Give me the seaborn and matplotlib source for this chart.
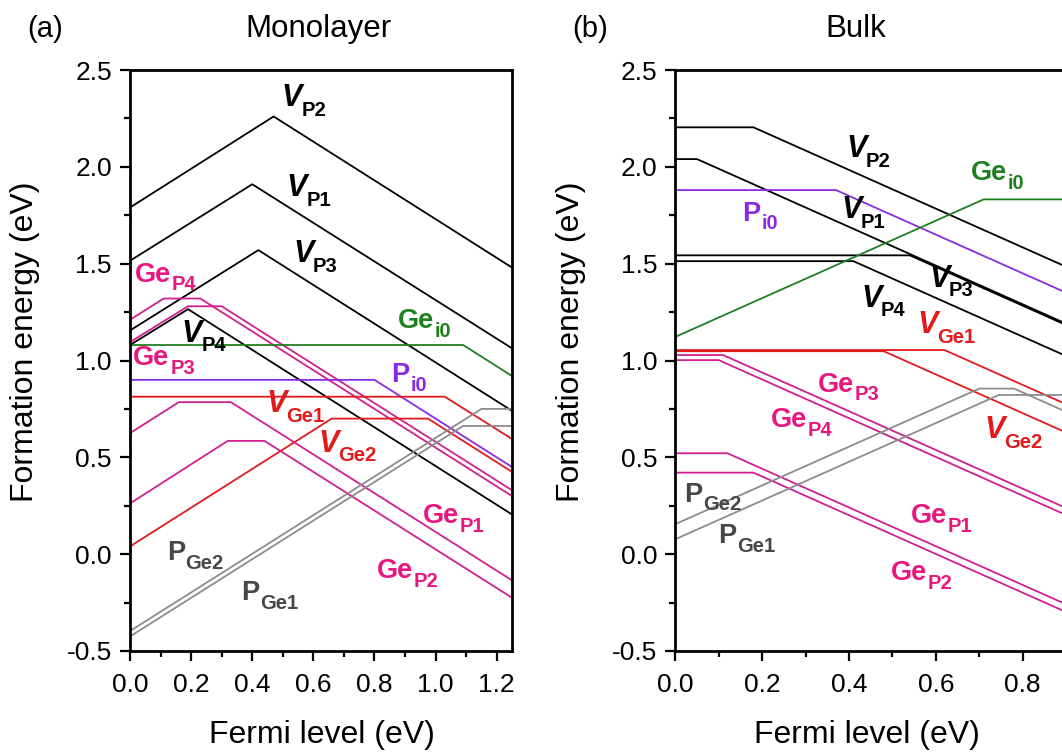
import matplotlib
matplotlib.use("Agg")
import matplotlib.pyplot as plt
from matplotlib.ticker import MultipleLocator, FormatStrFormatter
import seaborn as sns

# ---- Monolayer: kink points (Fermi level, formation energy) for each defect ----
mono_VP2_x = [0.0, 0.47, 1.25];          mono_VP2_y = [1.79, 2.26, 1.48]
mono_VP1_x = [0.0, 0.40, 1.25];          mono_VP1_y = [1.515, 1.91, 1.063]
mono_VP3_x = [0.0, 0.42, 1.25];          mono_VP3_y = [1.155, 1.57, 0.74]
mono_VP4_x = [0.0, 0.19, 1.25];          mono_VP4_y = [1.08, 1.265, 0.205]
mono_GeP4_x = [0.0, 0.11, 0.23, 1.25];   mono_GeP4_y = [1.21, 1.32, 1.32, 0.30]
mono_GeP3_x = [0.0, 0.19, 0.30, 1.25];   mono_GeP3_y = [1.095, 1.28, 1.28, 0.33]
mono_Gei0_x = [0.0, 1.09, 1.25];         mono_Gei0_y = [1.08, 1.08, 0.92]
mono_Pi0_x = [0.0, 0.80, 1.25];          mono_Pi0_y = [0.90, 0.90, 0.45]
mono_VGe1_x = [0.0, 1.03, 1.25];         mono_VGe1_y = [0.813, 0.813, 0.595]
mono_VGe2_x = [0.0, 0.66, 0.975, 1.25];  mono_VGe2_y = [0.04, 0.70, 0.70, 0.425]
mono_GeP1_x = [0.0, 0.16, 0.33, 1.25];   mono_GeP1_y = [0.625, 0.785, 0.785, -0.135]
mono_GeP2_x = [0.0, 0.32, 0.44, 1.25];   mono_GeP2_y = [0.262, 0.585, 0.585, -0.225]
mono_PGe2_x = [0.0, 1.15, 1.25];         mono_PGe2_y = [-0.397, 0.75, 0.75]
mono_PGe1_x = [0.0, 1.09, 1.25];         mono_PGe1_y = [-0.425, 0.662, 0.662]

# ---- Bulk ----
bulk_VP2_x = [0.0, 0.18, 0.9];           bulk_VP2_y = [2.204, 2.204, 1.484]
bulk_VP1_x = [0.0, 0.05, 0.9];           bulk_VP1_y = [2.04, 2.04, 1.19]
bulk_Pi0_x = [0.0, 0.37, 0.9];           bulk_Pi0_y = [1.88, 1.88, 1.35]
bulk_VP3_x = [0.0, 0.54, 0.9];           bulk_VP3_y = [1.543, 1.543, 1.183]
bulk_VP4_x = [0.0, 0.41, 0.9];           bulk_VP4_y = [1.513, 1.513, 1.023]
bulk_Gei0_x = [0.0, 0.71, 0.9];          bulk_Gei0_y = [1.122, 1.832, 1.832]
bulk_VGe1_x = [0.0, 0.62, 0.9];          bulk_VGe1_y = [1.054, 1.054, 0.774]
bulk_VGe2_x = [0.0, 0.48, 0.9];          bulk_VGe2_y = [1.048, 1.048, 0.628]
bulk_GeP3_x = [0.0, 0.11, 0.9];          bulk_GeP3_y = [1.028, 1.028, 0.238]
bulk_GeP4_x = [0.0, 0.10, 0.9];          bulk_GeP4_y = [1.002, 1.002, 0.202]
bulk_GeP1_x = [0.0, 0.12, 0.9];          bulk_GeP1_y = [0.521, 0.521, -0.259]
bulk_GeP2_x = [0.0, 0.18, 0.9];          bulk_GeP2_y = [0.421, 0.421, -0.299]
bulk_PGe2_x = [0.0, 0.70, 0.78, 0.9];    bulk_PGe2_y = [0.155, 0.855, 0.855, 0.735]
bulk_PGe1_x = [0.0, 0.745, 0.9];         bulk_PGe1_y = [0.077, 0.822, 0.822]

# colours: (line, label)
BLACK = ("#000000", "#000000")
PINK = ("#D02090", "#EA1680")
GREEN = ("#1F801F", "#1F801F")
PURPLE = ("#8A2BE2", "#8A2BE2")
RED = ("#E31A1C", "#E31A1C")
GRAY = ("#8C8C8C", "#474747")

# (x, y, colour, main text, subscript, italic, label x, label y)
mono_series = [
    (mono_VP2_x, mono_VP2_y, BLACK, "V", "P2", True, 0.496, 2.314),
    (mono_VP1_x, mono_VP1_y, BLACK, "V", "P1", True, 0.512, 1.849),
    (mono_VP3_x, mono_VP3_y, BLACK, "V", "P3", True, 0.534, 1.510),
    (mono_VP4_x, mono_VP4_y, BLACK, "V", "P4", True, 0.169, 1.097),
    (mono_GeP4_x, mono_GeP4_y, PINK, "Ge", "P4", False, 0.016, 1.407),
    (mono_GeP3_x, mono_GeP3_y, PINK, "Ge", "P3", False, 0.011, 0.977),
    (mono_Gei0_x, mono_Gei0_y, GREEN, "Ge", "i0", False, 0.877, 1.166),
    (mono_Pi0_x, mono_Pi0_y, PURPLE, "P", "i0", False, 0.856, 0.890),
    (mono_VGe1_x, mono_VGe1_y, RED, "V", "Ge1", True, 0.447, 0.735),
    (mono_VGe2_x, mono_VGe2_y, RED, "V", "Ge2", True, 0.616, 0.529),
    (mono_GeP1_x, mono_GeP1_y, PINK, "Ge", "P1", False, 0.959, 0.159),
    (mono_GeP2_x, mono_GeP2_y, PINK, "Ge", "P2", False, 0.807, -0.125),
    (mono_PGe2_x, mono_PGe2_y, GRAY, "P", "Ge2", False, 0.120, -0.030),
    (mono_PGe1_x, mono_PGe1_y, GRAY, "P", "Ge1", False, 0.365, -0.237),
]

bulk_series = [
    (bulk_VP2_x, bulk_VP2_y, BLACK, "V", "P2", True, 0.393, 2.052),
    (bulk_VP1_x, bulk_VP1_y, BLACK, "V", "P1", True, 0.382, 1.734),
    (bulk_Pi0_x, bulk_Pi0_y, PURPLE, "P", "i0", False, 0.155, 1.722),
    (bulk_VP3_x, bulk_VP3_y, BLACK, "V", "P3", True, 0.585, 1.381),
    (bulk_VP4_x, bulk_VP4_y, BLACK, "V", "P4", True, 0.428, 1.278),
    (bulk_Gei0_x, bulk_Gei0_y, GREEN, "Ge", "i0", False, 0.681, 1.932),
    (bulk_VGe1_x, bulk_VGe1_y, RED, "V", "Ge1", True, 0.558, 1.140),
    (bulk_VGe2_x, bulk_VGe2_y, RED, "V", "Ge2", True, 0.711, 0.598),
    (bulk_GeP3_x, bulk_GeP3_y, PINK, "Ge", "P3", False, 0.328, 0.839),
    (bulk_GeP4_x, bulk_GeP4_y, PINK, "Ge", "P4", False, 0.220, 0.658),
    (bulk_GeP1_x, bulk_GeP1_y, PINK, "Ge", "P1", False, 0.543, 0.159),
    (bulk_GeP2_x, bulk_GeP2_y, PINK, "Ge", "P2", False, 0.497, -0.133),
    (bulk_PGe2_x, bulk_PGe2_y, GRAY, "P", "Ge2", False, 0.021, 0.271),
    (bulk_PGe1_x, bulk_PGe1_y, GRAY, "P", "Ge1", False, 0.098, 0.056),
]

sns.set_theme(style="ticks")
FONT = "Liberation Sans"
plt.rcParams["font.family"] = [FONT, "DejaVu Sans"]
plt.rcParams["axes.unicode_minus"] = False
plt.rcParams["text.color"] = "black"
plt.rcParams["xtick.color"] = "black"
plt.rcParams["ytick.color"] = "black"
plt.rcParams["xtick.labelcolor"] = "black"
plt.rcParams["ytick.labelcolor"] = "black"

fig = plt.figure(figsize=(10.62, 7.53), dpi=100)
W, H = 1062.0, 753.0
ax_a = fig.add_axes([130 / W, (H - 651) / H, 382 / W, 581 / H])
ax_b = fig.add_axes([675.3 / W, (H - 651) / H, 0.9 * 434.3 / W, 581 / H])


def put_label(ax, x, y, main, sub, color, italic):
    size = 22 if italic else 19.5
    t = ax.text(x, y, main, color=color, fontsize=size, fontweight="bold",
                fontstyle="italic" if italic else "normal",
                ha="left", va="baseline", family=FONT)
    ax.annotate(sub, xy=(1, 0), xycoords=t,
                xytext=(-0.5 if italic else 0.5, -2.0), textcoords="offset points",
                color=color, fontsize=14.5, fontweight="bold",
                ha="left", va="baseline", family=FONT)


def draw(ax, series, xmax):
    for xs, ys, (lc, tc), main, sub, italic, lx, ly in series:
        sns.lineplot(x=xs, y=ys, ax=ax, color=lc, linewidth=1.3,
                     sort=False, estimator=None)
        put_label(ax, lx, ly, main, sub, tc, italic)
    ax.set_xlim(0, xmax)
    ax.set_ylim(-0.5, 2.5)
    ax.xaxis.set_major_locator(MultipleLocator(0.2))
    ax.xaxis.set_minor_locator(MultipleLocator(0.1))
    ax.yaxis.set_major_locator(MultipleLocator(0.5))
    ax.yaxis.set_minor_locator(MultipleLocator(0.25))
    ax.xaxis.set_major_formatter(FormatStrFormatter("%.1f"))
    ax.yaxis.set_major_formatter(FormatStrFormatter("%.1f"))
    ax.tick_params(which="major", direction="out", length=7, width=1.6,
                   labelsize=19, top=False, right=False)
    ax.tick_params(axis="x", which="major", pad=9)
    ax.tick_params(axis="y", which="major", pad=6)
    ax.tick_params(which="minor", direction="out", length=4, width=1.6,
                   top=False, right=False)
    for s in ax.spines.values():
        s.set_linewidth(2.0)
        s.set_color("black")
    for lab in ax.get_xticklabels() + ax.get_yticklabels():
        lab.set_family(FONT)
    ax.set_xlabel("")
    ax.set_ylabel("")


draw(ax_a, mono_series, 1.25)
draw(ax_b, bulk_series, 0.9)

# titles, panel tags and axis titles
fig.text(318 / W, 1 - 37 / H, "Monolayer", fontsize=22.5, ha="center", va="baseline", family=FONT)
fig.text(856 / W, 1 - 37 / H, "Bulk", fontsize=22.5, ha="center", va="baseline", family=FONT)
fig.text(27 / W, 1 - 37 / H, "(a)", fontsize=21, ha="left", va="baseline", family=FONT)
fig.text(572 / W, 1 - 37 / H, "(b)", fontsize=21, ha="left", va="baseline", family=FONT)
for cx in (322, 867):
    fig.text(cx / W, 1 - 743 / H, "Fermi level (eV)", fontsize=23,
             ha="center", va="baseline", family=FONT)
for cx in (25, 571):
    fig.text(cx / W, 1 - 342 / H, "Formation energy (eV)", fontsize=23,
             rotation=90, ha="center", va="center", family=FONT)

fig.savefig("out.png", dpi=100)
